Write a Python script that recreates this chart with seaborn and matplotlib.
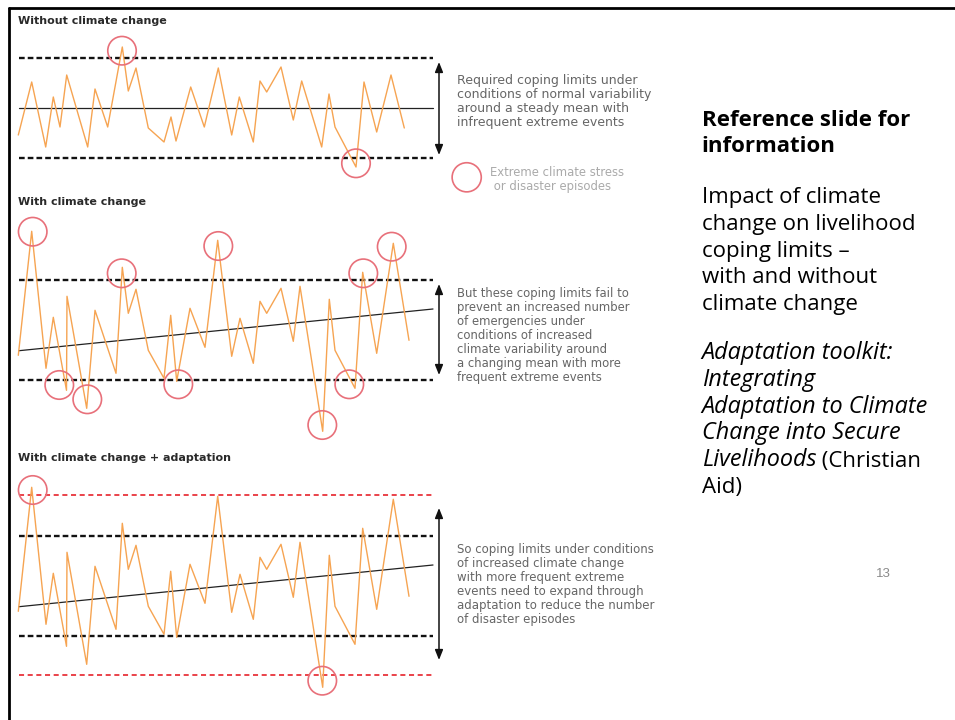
import numpy as np
import pandas as pd
import matplotlib.pyplot as plt
import seaborn as sns
from matplotlib.lines import Line2D

sns.set_theme(style="white")
plt.rcParams['font.family'] = ['DejaVu Sans']

# Tamaño de la imagen en píxeles
W, H = 955, 720

# Serie sin cambio climático: tiempo y desviación respecto a la media
t_sin = [18.3, 31.7, 45.7, 53.3, 60, 66.7, 87.7, 95, 107.7, 122.3, 128.3, 136, 148.3, 164, 171, 176,
         190.7, 204.3, 218.3, 231.7, 239.3, 253.3, 260, 266.7, 281, 293.3, 301.7, 321.7, 329, 335,
         356, 364, 376.7, 391, 404.3]
v_sin = [-27, 26, -39, 11, -19, 33, -39, 19, -19, 61, 17, 40, -20, -34, -9, -33, 21, -19, 40, -27,
         11, -34, 27, 16, 41, -12, 27, -39, 14, -19, -59, 26, -24, 33, -20]

# Serie con cambio climático (la misma se usa en el panel con adaptación)
t_con = [18.3, 31.7, 46, 53.3, 66.5, 67, 86.7, 95, 116, 122.3, 128.3, 136, 148.3, 164, 170.7, 176.7,
         190, 205, 217.7, 231.7, 240, 253.3, 260, 266.7, 281, 293.3, 300, 322.7, 329.3, 335,
         355, 362.7, 376.7, 393.3, 409]
v_con = [-25, 99, -38, 13, -60, 34, -78, 20, -43, 63, 17, 41, -20, -48, 15, -51, 22, -17, 90, -26,
         12, -33, 29, 17, 42, -11, 44, -101, 31, -20, -58, 58, -23, 87, -10]

# Media (tendencia) y límites de afrontamiento
media_t = [19, 433]
media_sin = [0, 0]
media_con = [-20.4, 21.3]
limite_normal = 50
limite_adapt_sup = 91
limite_adapt_inf = -89

# Episodios extremos (círculos)
circ_sin_t = [122, 356]
circ_sin_v = [57.3, -55.3]
circ_con_t = [32.7, 121.7, 59.3, 87.3, 178.3, 218.3, 322.3, 349.3, 363.3, 391.7]
circ_con_v = [98.6, 57, -54.7, -69, -54, 84.3, -94.7, -54, 57, 83.6]
circ_adapt_t = [32.7, 322.3]
circ_adapt_v = [96.3, -94.4]

titulos = ["Without climate change", "With climate change", "With climate change + adaptation"]

texto_1 = ["Required coping limits under", "conditions of normal variability",
           "around a steady mean with", "infrequent extreme events"]
texto_leyenda = ["Extreme climate stress", " or disaster episodes"]
texto_2 = ["But these coping limits fail to", "prevent an increased number",
           "of emergencies under", "conditions of increased", "climate variability around",
           "a changing mean with more", "frequent extreme events"]
texto_3 = ["So coping limits under conditions", "of increased climate change",
           "with more frequent extreme", "events need to expand through",
           "adaptation to reduce the number", "of disaster episodes"]

naranja = "#f6a452"
rojo = "#e8707a"
rojo_linea = "#e8343c"
gris = "#666666"


def fx(px):
    return px / W


def fy(py):
    return 1 - py / H


def crear_panel(fig, arriba, abajo, centro):
    # Cada panel usa 1 unidad = 1 píxel para que todo quede en su sitio
    ax = fig.add_axes([0, 1 - abajo / H, 1, (abajo - arriba) / H])
    ax.set_xlim(0, W)
    ax.set_ylim(centro - abajo, centro - arriba)
    ax.axis("off")
    return ax


def dibujar_serie(ax, t, v, media_v, circ_t, circ_v, flecha):
    ax.hlines([limite_normal, -limite_normal], 19, 433, colors="#111111",
              linestyles=(0, (2.4, 1.3)), lw=1.7)
    sns.lineplot(x=media_t, y=media_v, ax=ax, color="#222222", lw=0.9)
    sns.lineplot(x=t, y=v, ax=ax, sort=False, estimator=None, color=naranja, lw=1.0)
    sns.scatterplot(x=circ_t, y=circ_v, ax=ax, s=420, facecolor="none",
                    edgecolor=rojo, linewidth=1.2, clip_on=False, zorder=5)
    ax.annotate("", xy=(439, flecha[0]), xytext=(439, flecha[1]),
                arrowprops=dict(arrowstyle="<|-|>,head_length=0.5,head_width=0.2",
                                color="#111111", lw=1.1, shrinkA=0, shrinkB=0))


fig = plt.figure(figsize=(W / 100, H / 100), dpi=100)

# Panel 1: sin cambio climático
ax1 = crear_panel(fig, 30, 195, 108)
dibujar_serie(ax1, t_sin, v_sin, media_sin, circ_sin_t, circ_sin_v, (46, -47))
sns.scatterplot(x=[466.7], y=[-69.3], ax=ax1, s=440, facecolor="none",
                edgecolor=rojo, linewidth=1.2, clip_on=False)

# Panel 2: con cambio climático
ax2 = crear_panel(fig, 212, 450, 330.3)
dibujar_serie(ax2, t_con, v_con, media_con, circ_con_t, circ_con_v, (46.3, -44.7))

# Panel 3: con cambio climático + adaptación
ax3 = crear_panel(fig, 470, 705, 586.3)
ax3.hlines([limite_adapt_sup, limite_adapt_inf], 19, 433, colors=rojo_linea,
           linestyles=(0, (2.8, 2.0)), lw=1.3)
dibujar_serie(ax3, t_con, v_con, media_con, circ_adapt_t, circ_adapt_v, (78.3, -73.7))

# Títulos de los paneles
for titulo, base in zip(titulos, [24.3, 205.3, 461]):
    fig.text(fx(18), fy(base), titulo, fontsize=8, fontweight="bold",
             color="#2a2a2a", va="baseline")

# Textos explicativos
for bloque, base, tam_txt in [(texto_1, 84, 9), (texto_2, 297.3, 8.4), (texto_3, 552.7, 8.5)]:
    for i, linea in enumerate(bloque):
        fig.text(fx(457.3), fy(base + i * 14), linea, fontsize=tam_txt, color=gris,
                 va="baseline")

for i, linea in enumerate(texto_leyenda):
    fig.text(fx(490), fy(176 + i * 14), linea, fontsize=8.4, color="#aaaaaa", va="baseline")

# Texto de la diapositiva (derecha)
fuente = "Open Sans"
tam = 16
tam_it = 16.8
x_der = fx(701.7)
fig.text(x_der, fy(125.7), "Reference slide for", fontsize=tam, family=fuente,
         fontweight="bold", color="black", va="baseline")
fig.text(x_der, fy(152.3), "information", fontsize=tam, family=fuente,
         fontweight="bold", color="black", va="baseline")

bloque_impacto = ["Impact of climate", "change on livelihood", "coping limits \u2013",
                  "with and without", "climate change"]
for i, linea in enumerate(bloque_impacto):
    fig.text(x_der, fy(203.3 + i * 26.7), linea, fontsize=tam, family=fuente,
             color="black", va="baseline")

bloque_fuente = ["Adaptation toolkit:", "Integrating", "Adaptation to Climate",
                 "Change into Secure"]
for i, linea in enumerate(bloque_fuente):
    fig.text(x_der, fy(359.3 + i * 26.7), linea, fontsize=tam_it, family=fuente,
             style="italic", color="black", va="baseline")
t_liv = fig.text(x_der, fy(466), "Livelihoods", fontsize=tam_it, family=fuente,
                 style="italic", color="black", va="baseline")
ax1.annotate(" (Christian", xy=(1, 0), xycoords=t_liv, fontsize=tam, family=fuente,
             color="black", va="bottom", annotation_clip=False)
fig.text(x_der, fy(492.7), "Aid)", fontsize=tam, family=fuente, color="black", va="baseline")

# Número de diapositiva
fig.text(fx(883), fy(577), "13", fontsize=9.5, family="Liberation Sans",
         color="#8a8a8a", ha="center", va="baseline")

# Marco de la diapositiva
fig.add_artist(Line2D([fx(9), fx(9)], [fy(8), fy(720)], color="black", lw=2))
fig.add_artist(Line2D([fx(9), fx(955)], [fy(8), fy(8)], color="black", lw=2))

fig.savefig("out.png", dpi=100)
